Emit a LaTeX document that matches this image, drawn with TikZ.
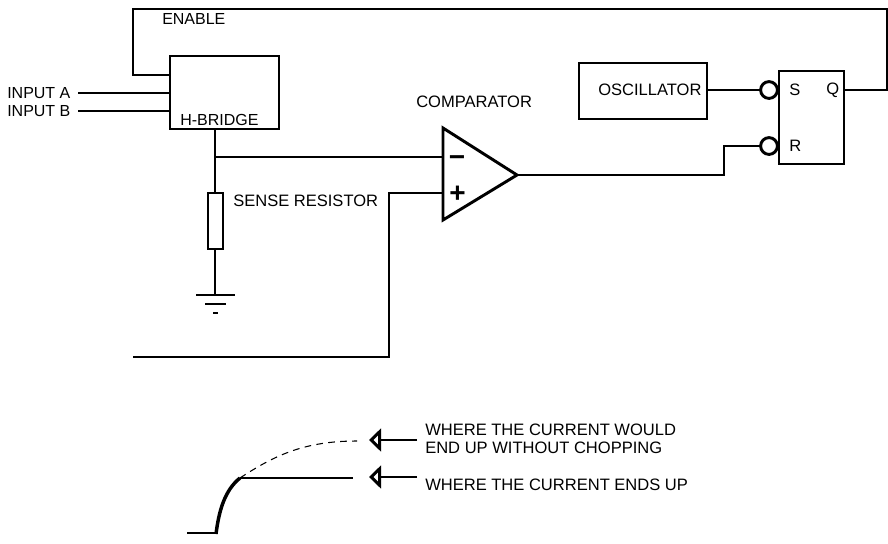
\documentclass[tikz,border=0pt]{standalone}
\usepackage{fontspec}
\setmainfont{Liberation Sans}
\usetikzlibrary{arrows.meta,calc,positioning}
\tikzset{
  wire/.style={line width=1.8pt,line join=miter},
  boxnode/.style={draw,line width=1.8pt,inner sep=0pt,outer sep=0pt,anchor=north west},
  bubble/.style={draw,circle,line width=2.2pt,inner sep=0pt,outer sep=0pt,minimum size=12.6pt},
  label/.style={inner sep=0pt,anchor=west},
  widelabel/.style={label,font=\fontsize{12.4}{14}\selectfont},
  pointer/.style={line width=2.2pt,-{Triangle[open,length=9pt,width=17pt,line width=2.6pt]}},
}
\begin{document}
\begin{tikzpicture}[x=0.75pt,y=-0.75pt,font=\fontsize{12}{14}\selectfont]
  \useasboundingbox (0,0) rectangle (888,543);
  % blocks
  \node[boxnode,minimum width=81.75pt,minimum height=54.75pt] (hbridge) at (170,56) {};
  \node[boxnode,minimum width=96pt,minimum height=42pt] (osc) at (579,63) {};
  \node[boxnode,minimum width=48.75pt,minimum height=69.75pt] (latch) at (779,71) {};
  \node[boxnode,minimum width=11.25pt,minimum height=42pt] (sense) at (208,193) {};
  \node[bubble] (setbub) at (769,90) {};
  \node[bubble] (resetbub) at (769,146) {};
  % comparator
  \coordinate (comptop) at (443,128);
  \coordinate (compbot) at (443,220);
  \coordinate (compout) at (517,175);
  \coordinate (compminus) at (443,157);
  \coordinate (compplus) at (443,193);
  \draw[wire,line width=2.2pt] (comptop) -- (compout) -- (compbot) -- cycle;
  \node[inner sep=0pt] at (457,161) {\fontsize{21}{21}\selectfont\textbf{−}};
  \node[inner sep=0pt] at (457.5,194) {\fontsize{21}{21}\selectfont\textbf{+}};
  % labels
  \node[label] (enable) at (162,19) {ENABLE};
  \node[label] (inputa) at (7,93) {INPUT A};
  \node[label] (inputb) at (7,111) {INPUT B};
  \node[label] at (180,120) {H-BRIDGE};
  \node[widelabel] at (416,102) {COMPARATOR};
  \node[widelabel] at (233,201) {SENSE RESISTOR};
  \node[widelabel] at (598,90) {OSCILLATOR};
  \foreach \x/\y/\t in {789/90/S,826/90/Q,789/146/R} {
    \node[widelabel] at (\x,\y) {\t};
  }
  \node[widelabel] (wouldtop) at (425,430) {WHERE THE CURRENT WOULD};
  \node[widelabel] (wouldbot) at (425,448) {END UP WITHOUT CHOPPING};
  \node[widelabel] (endsup) at (425,485) {WHERE THE CURRENT ENDS UP};
  % input and enable wiring
  \coordinate (ina) at (78,93);
  \coordinate (inb) at (78,111);
  \draw[wire] (ina) -- (ina -| hbridge.west);
  \draw[wire] (inb) -- (inb -| hbridge.west);
  \coordinate (enleft) at (133,75);
  \coordinate (entop) at (133,9);
  \coordinate (enright) at (887,9);
  \coordinate (qright) at (887,90);
  \draw[wire] (latch.east |- qright) -- (qright) -- (enright) -- (entop) -- (enleft) -- (enleft -| hbridge.west);
  % sense path
  \coordinate (tap) at (215,157);
  \coordinate (gnd) at (215,295);
  \draw[wire] (hbridge.south -| tap) -- (sense.north -| tap);
  \draw[wire] (sense.south -| tap) -- (gnd);
  \draw[wire] (tap) -- (compminus);
  \draw[wire] (196,295) -- (235,295);
  \draw[wire] (205,304) -- (226,304);
  \draw[wire] (213,313) -- (218,313);
  % reference input
  \coordinate (refcorner) at (389,193);
  \coordinate (refend) at (133,357);
  \draw[wire] (compplus) -- (refcorner) |- (refend);
  % latch wiring
  \coordinate (rbend) at (724,175);
  \draw[wire] (osc.east |- setbub) -- (setbub.west);
  \draw[wire] (compout) -- (rbend) |- (resetbub.west);
  % current curve
  \coordinate (knee) at (240,478);
  \draw[line width=0.8pt,dash pattern=on 5pt off 4pt] (knee) .. controls (275,455) and (305,441) .. (357,441);
  \draw[wire] (187,533) -- (216,533);
  \draw[line width=2.6pt] (216,534) .. controls (219,510) and (225,490) .. (knee);
  \draw[wire] (knee) -- (353,478);
  % pointers
  \coordinate (ptop) at (369,440);
  \coordinate (plow) at (369,477);
  \draw[pointer] (417,440) -- (ptop);
  \draw[pointer] (417,477) -- (plow);
\end{tikzpicture}
\end{document}
